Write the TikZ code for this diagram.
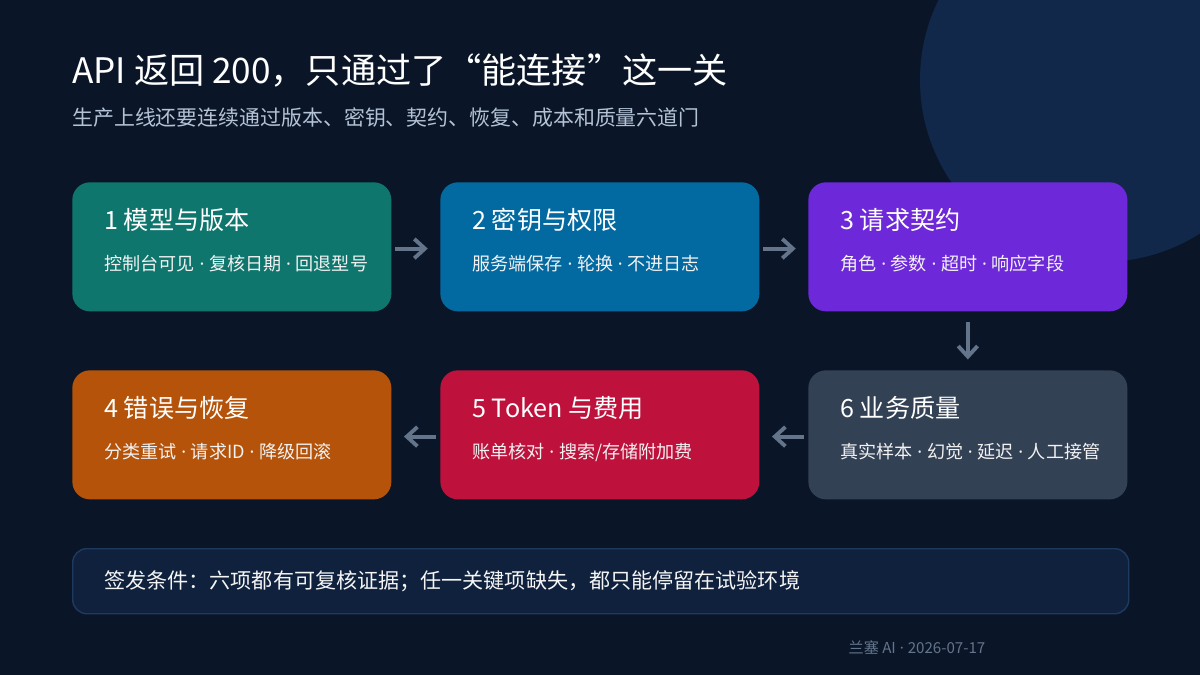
\documentclass[tikz,border=0pt]{standalone}
\usepackage{fontspec}
\setmainfont{Noto Sans CJK SC}
\newfontfamily\latinf{Noto Sans}
\newcommand{\dt}{{\latinf\ ·\ }}
\usetikzlibrary{arrows.meta}
\definecolor{bg}{HTML}{0A1628}
\definecolor{circ}{HTML}{12284A}
\definecolor{cA}{HTML}{0F766E}
\definecolor{cB}{HTML}{0369A1}
\definecolor{cC}{HTML}{6D28D9}
\definecolor{cD}{HTML}{B45309}
\definecolor{cE}{HTML}{BE123C}
\definecolor{cF}{HTML}{334155}
\definecolor{arr}{HTML}{64748B}
\definecolor{barfill}{HTML}{0F213D}
\definecolor{barline}{HTML}{1E3A5F}
\definecolor{subt}{HTML}{B4C2D6}
\begin{document}
\begin{tikzpicture}[x=0.02cm,y=-0.02cm,
  box/.style={rounded corners=10pt,inner sep=0pt,minimum width=319*0.02cm,minimum height=129*0.02cm},
  ttl/.style={anchor=west,inner sep=0pt,text=white,font=\fontsize{14.3pt}{17pt}\selectfont},
  sub/.style={anchor=west,inner sep=0pt,text=white!90!gray,font=\fontsize{10.3pt}{12pt}\selectfont},
  ar/.style={draw=arr,line width=2.2pt,-{Straight Barb[length=6pt,width=11pt]}}]
\useasboundingbox (0,0) rectangle (1200,675);
\fill[bg] (0,0) rectangle (1200,675);
\begin{scope}
\clip (0,0) rectangle (1200,675);
\fill[circ] (1102,80) circle (182);
\end{scope}
\node[anchor=west,inner sep=0pt,text=white,font=\fontsize{20pt}{24pt}\selectfont] (title) at (72,71) {API 返回 200，只通过了“能连接”这一关};
\node[anchor=west,inner sep=0pt,text=subt,font=\fontsize{11.9pt}{14pt}\selectfont] (subtitle) at (72,118) {生产上线还要连续通过版本、密钥、契约、恢复、成本和质量六道门};
\foreach \n/\x/\y/\c/\t/\s in {
 a/72/182/cA/{1 模型与版本}/{控制台可见\dt 复核日期\dt 回退型号},
 b/440/182/cB/{2 密钥与权限}/{服务端保存\dt 轮换\dt 不进日志},
 c/808/182/cC/{3 请求契约}/{角色\dt 参数\dt 超时\dt 响应字段},
 d/72/370/cD/{4 错误与恢复}/{分类重试\dt 请求ID\dt 降级回滚},
 e/440/370/cE/{5 Token 与费用}/{账单核对\dt 搜索/存储附加费},
 f/808/370/cF/{6 业务质量}/{真实样本\dt 幻觉\dt 延迟\dt 人工接管}}{
 \node[box,fill=\c,anchor=north west] (\n) at (\x,\y) {};
 \node[ttl] (\n t) at (\x+32,\y+38) {\t};
 \node[sub] (\n s) at (\x+32,\y+82) {\s};
}
\draw[ar] ([xshift=2pt,yshift=-1pt]a.east) -- ([xshift=-7pt,yshift=-1pt]b.west);
\draw[ar] ([xshift=2pt,yshift=-1pt]b.east) -- ([xshift=-7pt,yshift=-1pt]c.west);
\draw[ar] ([yshift=-6pt]c.south) -- ([yshift=6pt]f.north);
\draw[ar] ([xshift=-2pt,yshift=-1pt]f.west) -- ([xshift=7pt,yshift=-1pt]e.east);
\draw[ar] ([xshift=-2pt,yshift=-1pt]e.west) -- ([xshift=7pt,yshift=-1pt]d.east);
\node[draw=barline,fill=barfill,line width=0.8pt,rounded corners=8pt,anchor=north west,minimum width=1056*0.02cm,minimum height=65*0.02cm,inner sep=0pt] (bar) at (72,548) {};
\node[anchor=west,inner sep=0pt,text=white!92!gray,font=\fontsize{12pt}{14pt}\selectfont] (bart) at (104,581) {签发条件：六项都有可复核证据；任一关键项缺失，都只能停留在试验环境};
\node[text=arr,font=\fontsize{8.6pt}{10pt}\selectfont] (foot) at (917,648) {兰塞 AI\dt 2026-07-17};
\end{tikzpicture}
\end{document}
